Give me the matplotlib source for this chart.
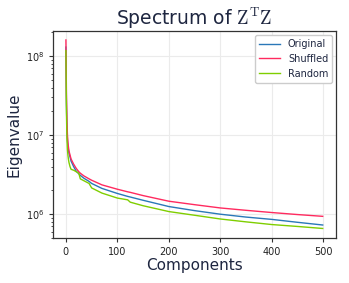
import matplotlib
matplotlib.use("Agg")
import matplotlib.pyplot as plt

components = [0, 1, 2, 3, 4, 5, 6, 8, 10, 15, 20, 25, 28, 35, 45, 50, 70, 100, 120, 125, 150, 200, 250, 300, 350, 400, 450, 499]
original = [1.3e8, 2.5e7, 1.2e7, 8.5e6, 7.2e6, 6.4e6, 5.9e6, 5.3e6, 4.7e6, 4.0e6, 3.5e6, 3.25e6, 3.1e6, 2.85e6, 2.6e6,
            2.45e6, 2.12e6, 1.83e6, 1.68e6, 1.65e6, 1.5e6, 1.25e6, 1.11e6, 1.0e6, 0.92e6, 0.86e6, 0.79e6, 0.73e6]
shuffled = [1.6e8, 3.4e7, 1.5e7, 1.0e7, 8.0e6, 7.0e6, 6.3e6, 5.6e6, 5.0e6, 4.3e6, 3.8e6, 3.45e6, 3.3e6, 3.05e6, 2.8e6,
            2.69e6, 2.35e6, 2.07e6, 1.92e6, 1.89e6, 1.72e6, 1.46e6, 1.32e6, 1.2e6, 1.12e6, 1.05e6, 0.99e6, 0.94e6]
random_ = [1.17e8, 2.0e7, 9e6, 6.5e6, 5.5e6, 4.9e6, 4.5e6, 4.0e6, 3.7e6, 3.6e6, 3.45e6, 3.3e6, 2.8e6, 2.65e6, 2.45e6,
           2.15e6, 1.85e6, 1.6e6, 1.52e6, 1.42e6, 1.28e6, 1.08e6, 0.97e6, 0.87e6, 0.8e6, 0.74e6, 0.7e6, 0.66e6]

labels = ["Original", "Shuffled", "Random"]
colors = ["#2a78b8", "#ff2a5f", "#7fce00"]

plt.rcParams["mathtext.fontset"] = "cm"
text_color = "#1e2640"

fig = plt.figure(figsize=(3.49, 2.83), dpi=100)
ax = fig.add_axes([0.152, 0.159, 0.811, 0.731])

for ys, lab, c in zip([original, shuffled, random_], labels, colors):
    ax.plot(components, ys, color=c, lw=1.0, label=lab)

ax.set_yscale("log")
ax.set_xlim(-25, 525)
ax.set_ylim(5e5, 2.07e8)
ax.set_xticks([0, 100, 200, 300, 400, 500])
ax.grid(True, which="major", color="#ebebeb", lw=0.8)
ax.set_axisbelow(True)

ax.tick_params(axis="both", which="major", labelsize=7, colors="#333333", labelcolor="#222222", length=3, width=0.8)
ax.tick_params(axis="y", which="minor", length=1.8, width=0.6, colors="#333333")
for s in ax.spines.values():
    s.set_color("#333333")
    s.set_linewidth(0.9)

ax.set_title(r"Spectrum of $\mathrm{Z^TZ}$", fontsize=13.5, color=text_color, pad=4)
ax.set_xlabel("Components", fontsize=11, color=text_color, labelpad=1)
ax.set_ylabel("Eigenvalue", fontsize=11, color=text_color, labelpad=3)

leg = ax.legend(loc="upper right", fontsize=7, frameon=True, fancybox=True, framealpha=1,
                edgecolor="#cccccc", handlelength=2.2, borderaxespad=0.4)
for t in leg.get_texts():
    t.set_color(text_color)

fig.savefig("out.png", dpi=100)
